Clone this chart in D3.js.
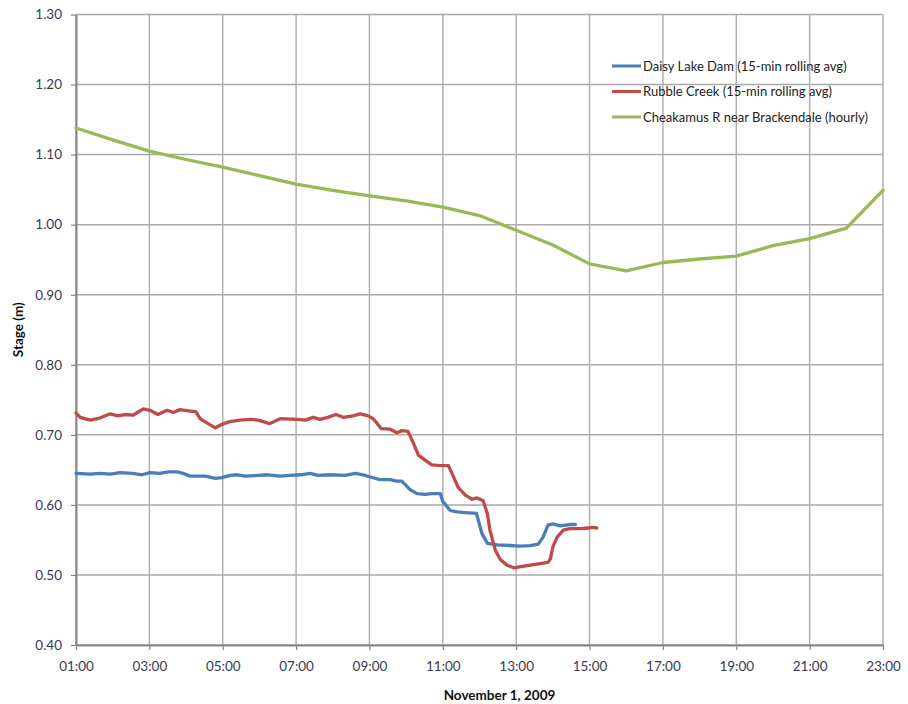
<!DOCTYPE html>
<html>
<head>
<meta charset="utf-8">
<script src="https://cdn.jsdelivr.net/npm/d3@7"></script>
<style>
  body { margin: 0; background: #fff; }
  svg text { font-family: Lato, "Open Sans", sans-serif; }
</style>
</head>
<body>
<div class="svg"></div>
<script>
// hourly readings, Cheakamus R near Brackendale
var greenTimes = ["01:00","02:00","03:00","04:00","05:00","06:00","07:00","08:00","09:00","10:00","11:00","12:00",
                  "13:00","14:00","15:00","16:00","17:00","18:00","19:00","20:00","21:00","22:00","23:00"];
var greenValues = [1.138,1.121,1.105,1.093,1.082,1.070,1.058,1.049,1.041,1.034,1.025,1.013,
                   0.992,0.971,0.944,0.934,0.946,0.951,0.955,0.970,0.980,0.995,1.049];

// Rubble Creek (15-min rolling avg)
var redTimes = ["01:00","01:07","01:23","01:39","01:56","02:09","02:20","02:33","02:50","03:01","03:14","03:29",
                "03:39","03:50","04:07","04:16","04:23","04:34","04:48","04:59","05:12","05:28","05:45","05:58",
                "06:17","06:34","07:02","07:15","07:28","07:39","07:52","08:05","08:17","08:33","08:45","08:58",
                "09:06","09:11","09:19","09:34","09:45","09:53","10:03","10:11","10:20","10:31","10:42","10:56",
                "11:09","11:15","11:25","11:37","11:48","11:56","12:06","12:13","12:17","12:26","12:34","12:45",
                "12:57","13:07","13:23","13:39","13:52","13:56","14:00","14:07","14:17","14:28","14:45","14:58",
                "15:04","15:12"];
var redValues = [0.731,0.725,0.721,0.724,0.730,0.727,0.729,0.728,0.737,0.735,0.729,0.735,
                 0.732,0.736,0.734,0.733,0.723,0.717,0.710,0.715,0.719,0.721,0.722,0.721,
                 0.716,0.723,0.722,0.721,0.725,0.722,0.725,0.729,0.725,0.727,0.730,0.727,
                 0.723,0.718,0.709,0.708,0.703,0.706,0.705,0.690,0.671,0.664,0.657,0.656,
                 0.656,0.645,0.625,0.614,0.608,0.610,0.606,0.587,0.564,0.535,0.522,0.514,
                 0.510,0.512,0.514,0.516,0.518,0.523,0.540,0.554,0.564,0.566,0.566,0.567,
                 0.568,0.567];

// Daisy Lake Dam (15-min rolling avg)
var blueTimes = ["01:00","01:23","01:39","01:56","02:12","02:33","02:48","03:01","03:17","03:31","03:47","03:55",
                 "04:07","04:31","04:48","04:59","05:12","05:23","05:37","05:58","06:14","06:34","06:50","07:07",
                 "07:23","07:36","07:56","08:20","08:37","08:53","09:09","09:17","09:34","09:45","09:53","10:06",
                 "10:18","10:31","10:42","10:56","11:00","11:12","11:23","11:37","11:55","12:04","12:13","12:29",
                 "12:50","13:07","13:23","13:36","13:44","13:52","14:00","14:12","14:28","14:37"];
var blueValues = [0.645,0.644,0.645,0.644,0.646,0.645,0.643,0.646,0.645,0.647,0.647,0.645,
                  0.641,0.641,0.638,0.639,0.642,0.643,0.641,0.642,0.643,0.641,0.642,0.643,
                  0.645,0.642,0.643,0.642,0.645,0.642,0.638,0.636,0.636,0.634,0.634,0.622,
                  0.616,0.615,0.616,0.616,0.605,0.592,0.590,0.589,0.588,0.559,0.545,0.543,
                  0.542,0.541,0.542,0.544,0.554,0.571,0.573,0.570,0.572,0.572];

var xTickLabels = ["01:00","03:00","05:00","07:00","09:00","11:00","13:00","15:00","17:00","19:00","21:00","23:00"];
var yTicks = [0.40,0.50,0.60,0.70,0.80,0.90,1.00,1.10,1.20,1.30];

var seriesNames = ["Daisy Lake Dam (15-min rolling avg)", "Rubble Creek (15-min rolling avg)", "Cheakamus R near Brackendale (hourly)"];
var seriesColors = ["#4a7ebb", "#be4b48", "#98b954"];

var margin = {top: 14.5, right: 25, bottom: 59, left: 76},
    width = 908 - margin.left - margin.right,
    height = 704 - margin.top - margin.bottom;

var parseTime = d3.timeParse("%H:%M");

var x = d3.scaleTime()
    .domain([parseTime("01:00"), parseTime("23:00")])
    .range([0, width]);
var y = d3.scaleLinear()
    .domain([0.40, 1.30])
    .range([height, 0]);

var svg = d3.select(".svg")
    .append("svg")
    .attr("width", 908)
    .attr("height", 704)
    .append("g")
    .attr("transform", "translate(" + margin.left + "," + margin.top + ")");

// gridlines
svg.append("g")
    .selectAll("line")
    .data(yTicks)
    .enter().append("line")
    .attr("x1", 0).attr("x2", width)
    .attr("y1", function(d) { return y(d); })
    .attr("y2", function(d) { return y(d); })
    .attr("stroke", "#a9a9a9")
    .attr("stroke-width", 1.5);

svg.append("g")
    .selectAll("line")
    .data(xTickLabels)
    .enter().append("line")
    .attr("x1", function(d) { return x(parseTime(d)); })
    .attr("x2", function(d) { return x(parseTime(d)); })
    .attr("y1", 0).attr("y2", height)
    .attr("stroke", "#b0b0b0")
    .attr("stroke-width", 1.5);

// Define the axes
var xAxis = d3.axisBottom(x)
    .tickValues(xTickLabels.map(parseTime))
    .tickFormat(d3.timeFormat("%H:%M"))
    .tickSizeInner(5).tickSizeOuter(0).tickPadding(11);
var yAxis = d3.axisLeft(y)
    .tickValues(yTicks)
    .tickFormat(d3.format(".2f"))
    .tickSizeInner(5).tickSizeOuter(0).tickPadding(9);

var gx = svg.append("g")
    .attr("class", "x axis")
    .attr("transform", "translate(0," + height + ")")
    .call(xAxis);
var gy = svg.append("g")
    .attr("class", "y axis")
    .call(yAxis);

[gx, gy].forEach(function(g) {
    g.select(".domain").attr("stroke", "#868686").attr("stroke-width", 2);
    g.selectAll(".tick line").attr("stroke", "#868686").attr("stroke-width", 1.2);
    g.selectAll(".tick text")
        .attr("fill", "#3b3b4f")
        .style("font-size", "13.5px");
});

// lines
var line = d3.line()
    .x(function(d) { return x(parseTime(d.t)); })
    .y(function(d) { return y(d.v); });

function zip(times, values) {
    return times.map(function(t, i) { return {t: t, v: values[i]}; });
}
var series = [zip(blueTimes, blueValues), zip(redTimes, redValues), zip(greenTimes, greenValues)];

svg.append("g")
    .selectAll("path")
    .data(series)
    .enter().append("path")
    .attr("d", line)
    .attr("fill", "none")
    .attr("stroke", function(d, i) { return seriesColors[i]; })
    .attr("stroke-width", 3.3)
    .attr("stroke-linejoin", "round")
    .attr("stroke-linecap", "round");

// legend
var legend = svg.append("g")
    .attr("transform", "translate(536,51.5)");
var items = legend.selectAll("g")
    .data(seriesNames)
    .enter().append("g")
    .attr("transform", function(d, i) { return "translate(0," + (i * 25.5) + ")"; });
items.append("line")
    .attr("x1", 0).attr("x2", 29)
    .attr("stroke", function(d, i) { return seriesColors[i]; })
    .attr("stroke-width", 3);
items.append("text")
    .attr("x", 31)
    .attr("dy", "0.35em")
    .attr("fill", "#222")
    .style("font-size", "13px")
    .text(function(d) { return d; });

// axis titles
svg.append("text")
    .attr("x", width / 2 + 20)
    .attr("y", height + 55)
    .attr("text-anchor", "middle")
    .attr("fill", "#111")
    .style("font-size", "13.5px")
    .style("font-weight", "bold")
    .text("November 1, 2009");

svg.append("text")
    .attr("transform", "translate(-53," + (y(0.85)) + ")rotate(-90)")
    .attr("text-anchor", "middle")
    .attr("fill", "#111")
    .style("font-size", "13.5px")
    .style("font-weight", "bold")
    .text("Stage (m)");
</script>
</body>
</html>
